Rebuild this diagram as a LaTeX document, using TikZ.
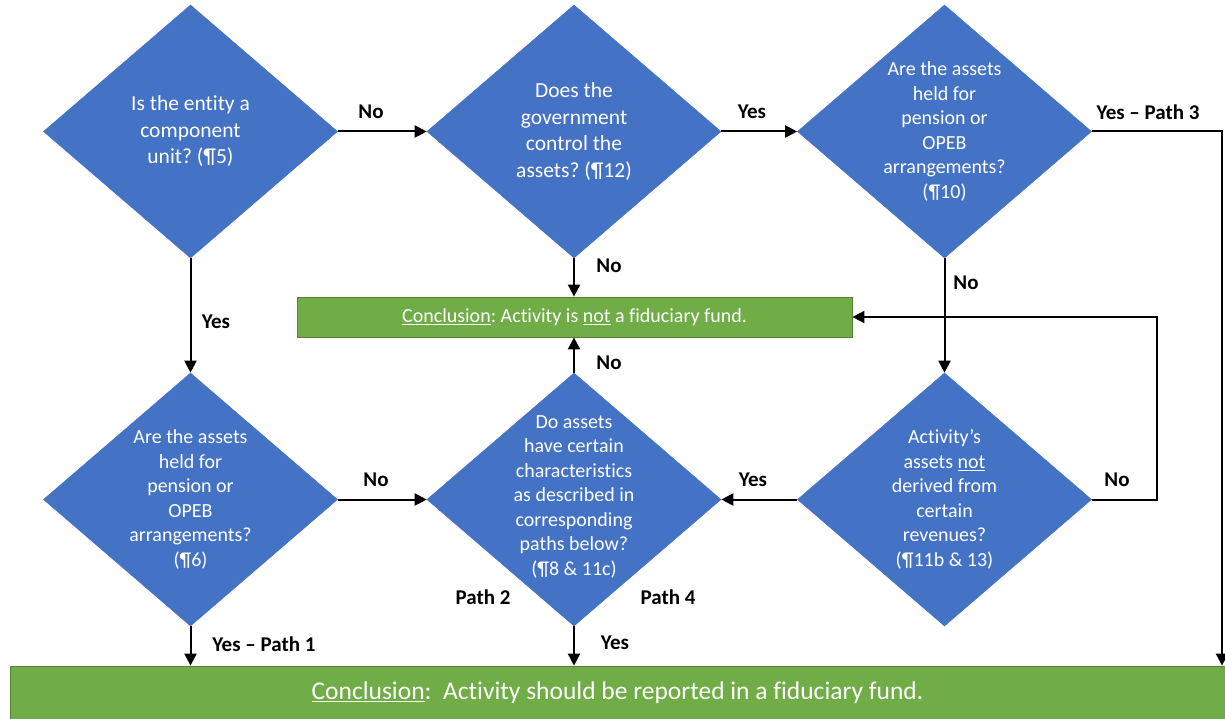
\documentclass[tikz,border=0pt]{standalone}
\usepackage{fontspec}
\setmainfont[Ligatures=NoCommon]{Carlito}
\usetikzlibrary{shapes.geometric,arrows.meta}
\definecolor{qblue}{HTML}{4472C4}
\definecolor{qgreen}{HTML}{70AD47}
\definecolor{qgreenedge}{HTML}{548235}
\frenchspacing
\begin{document}
\begin{tikzpicture}[x=1pt,y=-1pt,
  question/.style={diamond,fill=qblue,draw=qblue,line width=0.6pt,inner sep=0pt,
    minimum width=294pt,minimum height=253pt},
  qtextbig/.style={text=white,align=center,font=\fontsize{21.5}{26.5}\selectfont},
  qtext/.style={text=white,align=center,font=\fontsize{20}{24.5}\selectfont},
  outcome/.style={rectangle,fill=qgreen,draw=qgreenedge,line width=0.8pt,inner sep=0pt,text=white},
  flow/.style={line width=2pt,-{Triangle[length=12pt,width=12pt]}},
  lbl/.style={font=\fontsize{21}{25}\selectfont\bfseries,inner sep=0pt}]

\useasboundingbox (0,0) rectangle (1225,719);
\fill[white] (0,0) rectangle (1225,719);

% decision diamonds
\node[question] (d1) at (190.5,131.5) {};
\node[question] (d2) at (574,131.5) {};
\node[question] (d3) at (944.5,131.5) {};
\node[question] (d4) at (190.5,499.5) {};
\node[question] (d5) at (574,499.5) {};
\node[question] (d6) at (944.5,499.5) {};

\node[qtextbig] (t1) at (d1) {Is the entity a\\component\\unit? (¶5)};
\node[qtextbig] (t2) at (d2) {Does the\\government\\control the\\assets? (¶12)};
\node[qtext] (t3) at (d3) {Are the assets\\held for\\pension or\\OPEB\\arrangements?\\(¶10)};
\node[qtext] (t4) at (d4) {Are the assets\\held for\\pension or\\OPEB\\arrangements?\\(¶6)};
\node[qtext] (t5) at ([yshift=3pt]d5.center) {Do assets\\have certain\\characteristics\\as described in\\corresponding\\paths below?\\(¶8 \& 11c)};
\node[qtext] (t6) at (d6) {Activity’s\\assets \underline{not}\\derived from\\certain\\revenues?\\(¶11b \& 13)};

% conclusions
\node[outcome,minimum width=555pt,minimum height=40pt,font=\fontsize{20}{24}\selectfont]
  (nofund) at (574.5,317) {\underline{Conclusion}: Activity is \underline{not} a fiduciary fund.};
\node[outcome,minimum width=1215pt,minimum height=53pt,font=\fontsize{25.5}{30}\selectfont]
  (bot) at (617.5,692.5) {\underline{Conclusion}:\ \ Activity should be reported in a fiduciary fund.};

% routing points
\coordinate (p3) at (1222,0);
\coordinate (loop) at (1157,0);

% connectors
\draw[flow] (d1.east) -- (d2.west);
\draw[flow] (d2.east) -- (d3.west);
\draw[flow] (d3.east) -- (d3.east -| p3) -- (p3 |- bot.north);
\draw[flow] (d2.south) -- (d2.south |- nofund.north);
\draw[flow] (d3.south) -- (d6.north);
\draw[flow] (d6.east) -- (d6.east -| loop) -- (loop |- nofund.east) -- (nofund.east);
\draw[flow] (d6.west) -- (d5.east);
\draw[flow] (d5.north) -- (d5.north |- nofund.south);
\draw[flow] (d1.south) -- (d4.north);
\draw[flow] (d4.east) -- (d5.west);
\draw[flow] (d4.south) -- (d4.south |- bot.north);
\draw[flow] (d5.south) -- (d5.south |- bot.north);

% connector labels
\node[lbl] (l1) at (371,112) {No};
\node[lbl] (l2) at (752,112) {Yes};
\node[lbl] (l3) at (1148,112) {Yes – Path 3};
\node[lbl] (l4) at (609,266) {No};
\node[lbl] (l5) at (966,283) {No};
\node[lbl] (l6) at (216,322) {Yes};
\node[lbl] (l7) at (609,363) {No};
\node[lbl] (l8) at (376,480) {No};
\node[lbl] (l9) at (753,480) {Yes};
\node[lbl] (l10) at (1117,480) {No};
\node[lbl] (l11) at (483,597) {Path 2};
\node[lbl] (l12) at (668,597) {Path 4};
\node[lbl] (l13) at (264,644) {Yes – Path 1};
\node[lbl] (l14) at (615,643) {Yes};
\end{tikzpicture}
\end{document}
